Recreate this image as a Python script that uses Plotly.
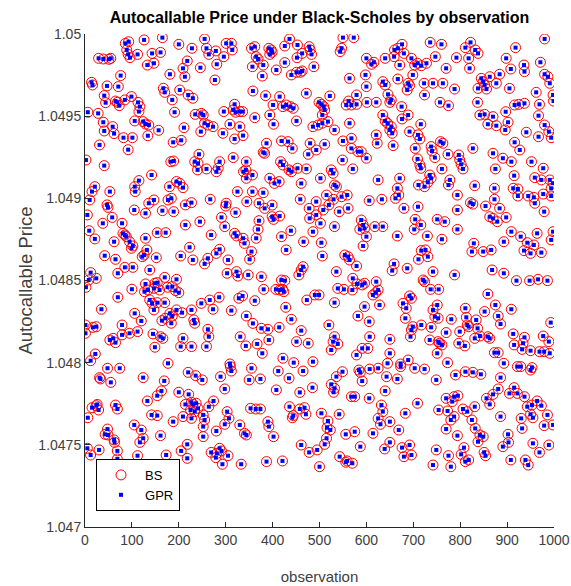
import plotly.graph_objects as go

# Observation index and autocallable price (Black-Scholes reference vs GPR prediction)
observation = [
    86, 93, 89, 92, 96, 126, 165, 200, 228, 29, 39, 51, 55, 112, 143, 161, 133, 147, 218, 246,
    209, 213, 181, 76, 14, 16, 47, 71, 167, 170, 202, 220, 230, 41, 44, 65, 69, 73, 85, 99,
    113, 117, 115, 186, 6, 28, 191, 235, 248, 39, 59, 62, 106, 124, 129, 136, 41, 134, 157, 211,
    247, 82, 101, 92, 31, 188, 205, 243, 2, 41, 183, 189, 234, 241, 240, 142, 115, 21, 106, 180,
    195, 202, 209,
    255, 259, 264, 279, 281, 296, 301, 312, 314, 277, 355, 362, 365, 369, 357, 380, 378, 392, 397, 394,
    399, 408, 426, 436, 453, 426, 452, 463, 478, 480, 483, 440, 451, 459, 463, 488, 550, 573, 544, 547,
    564, 600, 611, 616, 598, 600, 358, 385, 415, 472, 522, 499, 504, 509, 511, 506, 579, 562, 557, 568,
    579, 601, 621, 319, 316, 321, 330, 336, 296, 401, 422, 429, 438, 444, 394, 362, 451, 252, 255, 262,
    273, 309, 330, 294, 319, 337, 402, 486, 497, 506, 518, 564, 532, 550, 568, 621, 623, 419, 433, 442,
    387, 480, 493, 511, 380, 383, 568, 582, 589, 600, 476, 549, 316, 287, 284, 280, 259, 344, 343, 338,
    344, 357, 417, 422, 435, 440, 453, 472, 525, 529, 571, 394, 404, 414, 461, 532, 536, 502, 625,
    676, 667, 660, 680, 659, 640, 736, 760, 747, 696, 703, 709, 717, 728, 671, 792, 770, 822, 811, 832,
    838, 818, 820, 898, 918, 980, 908, 936, 937, 971, 980, 987, 991, 884, 877, 863, 845, 849, 852, 838,
    856, 905, 962, 998, 999, 667, 699, 689, 692, 687, 723, 742, 763, 788, 635, 640, 646, 653, 650, 724,
    757, 775, 837, 916, 925, 937, 969, 675, 689, 676, 635, 640, 645, 653, 650, 655, 716, 842, 852, 870,
    859, 877, 897, 902, 896, 967, 980, 989, 994, 941, 967, 692, 710, 714, 657, 758, 763, 738, 740, 704,
    827, 870, 916, 927, 891, 909, 952, 977, 709, 714, 716, 746, 774, 797, 799, 802, 806, 761, 875, 915,
    959, 671, 735, 738, 731, 711, 724, 778, 775, 831, 873, 913, 923, 973, 991, 998, 994, 666,
    15, 10, 53, 107, 5, 47, 49, 58, 79, 105, 129, 136, 147, 165, 177, 184, 189, 214, 227, 9,
    21, 38, 81, 85, 88, 95, 102, 99, 62, 129, 154, 172, 214, 245, 223, 42, 65, 122, 126, 132,
    152, 204, 230, 255, 12, 8, 24, 2, 70, 85, 102, 138, 100, 70, 129, 149, 154, 170, 176, 186,
    195, 193, 200, 159, 147, 134, 127, 138, 143, 154, 170, 35, 106, 120, 147, 181, 186, 171, 164, 184,
    195, 207, 227, 232, 234, 248, 1, 1, 17, 24, 79, 53, 60, 65, 79, 95, 112, 145, 149, 161,
    166, 209, 204, 227, 22, 12, 177,
    267, 301, 300, 325, 345, 357, 371, 383, 380, 399, 399, 402, 415, 321, 291, 371, 369, 365, 298, 269,
    319, 323, 337, 340, 355, 351, 287, 280, 262, 305, 303, 323, 326, 348, 376, 381, 419, 439, 429, 459,
    478, 479, 493, 493, 502, 508, 515, 520, 530, 542, 561, 547, 559, 606, 532, 486, 466, 504, 506, 589,
    593, 596, 600, 586, 618, 593, 554, 561, 564, 579, 536, 465, 461, 456, 419, 426, 421, 424, 415, 407,
    539, 552, 571, 580, 591, 596, 570, 621, 625, 614, 620, 532, 596, 582, 606, 473, 490, 499, 428, 440,
    414, 266, 273, 286, 312, 328, 336, 362, 344, 358, 376, 390, 392, 262, 264, 259, 331, 343, 367, 378,
    461, 451, 476, 520, 532, 529, 539, 525, 579, 591, 603, 607, 309, 422, 445, 486,
    633, 662, 669, 794, 822, 827, 873, 923, 945, 957, 959, 977, 994, 680, 710, 704, 716, 702, 635, 666,
    751, 767, 794, 794, 854, 863, 870, 879, 884, 898, 979, 730, 761, 829, 825, 849, 866, 893, 909, 929,
    943, 936, 950, 957, 964, 973, 994, 998, 717, 726, 731, 711, 659, 655, 687, 742, 788, 721, 724, 737,
    754, 628, 868, 893, 920, 948, 966, 986, 692, 696, 678, 685, 683, 859, 751, 742, 746, 753, 717, 699,
    696, 694, 738, 735, 770, 781, 811, 813, 815, 818, 799, 834, 837, 842, 852, 875, 881, 886, 909, 859,
    863, 831, 993, 913, 915, 937, 934, 932, 950, 977, 989, 969, 979, 753, 756, 761, 751, 797, 810, 650,
    650, 645, 673, 689, 773, 873, 881, 893, 991,
    48, 74, 124, 31, 33, 55, 169, 220, 236, 250, 163, 154, 200, 221, 227, 230, 237, 214, 225, 241,
    234, 133, 142, 154, 209, 188, 227, 252, 26, 15, 29, 24, 6, 65, 69, 105, 120, 124, 117, 161,
    48, 43, 49, 62, 63, 5, 12, 30, 69, 69, 112, 173, 205, 218, 218, 252,
    312, 310, 355, 412, 465, 289, 350, 374, 435, 408, 298, 458, 485, 536, 549, 525, 532, 530, 584, 587,
    607, 625, 591, 568, 575, 606, 274, 264, 252, 255, 303, 307, 298, 353, 364, 374, 436, 458, 468, 471,
    444, 442, 504, 542, 518, 516, 523, 625, 330, 340, 344, 390, 392, 402, 280, 556, 575, 614, 515, 511,
    587, 461, 478, 495, 269, 281, 287, 291, 279, 293, 305, 333, 387, 421, 500, 543, 556, 559, 570,
    643, 666, 673, 703, 724, 749, 790, 811, 827, 844, 886, 922, 929, 950, 953, 640, 709, 683, 632, 635,
    630, 650, 669, 770, 787, 795, 783, 754, 773, 780, 787, 770, 806, 815, 831, 825, 794, 832, 842, 849,
    838, 856, 863, 870, 881, 886, 915, 922, 937, 905, 943, 953, 964, 973, 950, 955, 986, 979, 998, 930,
    932, 902, 903, 891, 955, 989, 969, 650, 639, 676, 680, 692, 696, 749, 775, 780, 808, 802, 811, 818,
    851, 854, 908, 939, 945, 742,
]

bs_price = [
    1.049943, 1.049953, 1.049903, 1.049876, 1.049856, 1.049964, 1.049978, 1.049937, 1.049913, 1.049852,
    1.049848, 1.049846, 1.049852, 1.049876, 1.049882, 1.049888, 1.049811, 1.049822, 1.049836, 1.049795,
    1.049791, 1.049740, 1.049755, 1.049747, 1.049706, 1.049690, 1.049684, 1.049680, 1.049670, 1.049645,
    1.049659, 1.049629, 1.049609, 1.049625, 1.049582, 1.049592, 1.049584, 1.049564, 1.049599, 1.049619,
    1.049584, 1.049558, 1.049528, 1.049599, 1.049524, 1.049517, 1.049524, 1.049511, 1.049517, 1.049463,
    1.049436, 1.049394, 1.049471, 1.049467, 1.049452, 1.049446, 1.049410, 1.049381, 1.049414, 1.049430,
    1.049406, 1.049369, 1.049369, 1.049296, 1.049325, 1.049341, 1.049353, 1.049268, 1.049233, 1.049199,
    1.049223, 1.049227, 1.049223, 1.049213, 1.049173, 1.049142, 1.049108, 1.049071, 1.049071, 1.049071,
    1.049102, 1.049092, 1.049065,
    1.049970, 1.049913, 1.049876, 1.049897, 1.049816, 1.049862, 1.049943, 1.049943, 1.049903, 1.049720,
    1.049913, 1.049923, 1.049862, 1.049848, 1.049801, 1.049811, 1.049744, 1.049913, 1.049903, 1.049876,
    1.049889, 1.049781, 1.049927, 1.049970, 1.049933, 1.049826, 1.049856, 1.049882, 1.049923, 1.049903,
    1.049876, 1.049751, 1.049767, 1.049767, 1.049775, 1.049801, 1.049978, 1.049978, 1.049893, 1.049913,
    1.049730, 1.049852, 1.049816, 1.049828, 1.049751, 1.049680, 1.049653, 1.049625, 1.049619, 1.049639,
    1.049623, 1.049584, 1.049572, 1.049558, 1.049538, 1.049507, 1.049629, 1.049592, 1.049568, 1.049568,
    1.049572, 1.049584, 1.049584, 1.049572, 1.049538, 1.049524, 1.049528, 1.049528, 1.049528, 1.049568,
    1.049558, 1.049568, 1.049558, 1.049548, 1.049507, 1.049491, 1.049471, 1.049507, 1.049457, 1.049446,
    1.049436, 1.049451, 1.049436, 1.049396, 1.049361, 1.049382, 1.049451, 1.049436, 1.049446, 1.049457,
    1.049467, 1.049457, 1.049416, 1.049349, 1.049365, 1.049386, 1.049335, 1.049349, 1.049345, 1.049304,
    1.049335, 1.049335, 1.049294, 1.049329, 1.049280, 1.049274, 1.049304, 1.049284, 1.049284, 1.049244,
    1.049268, 1.049233, 1.049248, 1.049223, 1.049183, 1.049162, 1.049179, 1.049223, 1.049173, 1.049162,
    1.049122, 1.049142, 1.049223, 1.049203, 1.049173, 1.049162, 1.049183, 1.049179, 1.049173, 1.049152,
    1.049179, 1.049122, 1.049091, 1.049102, 1.049091, 1.049081, 1.049071, 1.049122, 1.049112,
    1.049937, 1.049913, 1.049903, 1.049882, 1.049862, 1.049852, 1.049949, 1.049937, 1.049862, 1.049852,
    1.049811, 1.049822, 1.049807, 1.049822, 1.049811, 1.049856, 1.049791, 1.049949, 1.049917, 1.049903,
    1.049882, 1.049852, 1.049791, 1.049852, 1.049917, 1.049970, 1.049787, 1.049811, 1.049771, 1.049828,
    1.049755, 1.049740, 1.049700, 1.049755, 1.049700, 1.049740, 1.049730, 1.049710, 1.049690, 1.049669,
    1.049665, 1.049669, 1.049645, 1.049629, 1.049592, 1.049726, 1.049751, 1.049700, 1.049686, 1.049659,
    1.049700, 1.049700, 1.049700, 1.049665, 1.049710, 1.049690, 1.049633, 1.049599, 1.049584, 1.049629,
    1.049584, 1.049564, 1.049584, 1.049568, 1.049572, 1.049578, 1.049572, 1.049558, 1.049507, 1.049483,
    1.049507, 1.049471, 1.049457, 1.049436, 1.049416, 1.049396, 1.049451, 1.049507, 1.049511, 1.049497,
    1.049451, 1.049442, 1.049527, 1.049463, 1.049416, 1.049503, 1.049446, 1.049406, 1.049369, 1.049402,
    1.049375, 1.049406, 1.049386, 1.049361, 1.049321, 1.049345, 1.049335, 1.049315, 1.049288, 1.049304,
    1.049304, 1.049274, 1.049341, 1.049294, 1.049244, 1.049223, 1.049223, 1.049183, 1.049240, 1.049203,
    1.049183, 1.049248, 1.049268, 1.049264, 1.049233, 1.049207, 1.049179, 1.049179, 1.049179, 1.049138,
    1.049126, 1.049122, 1.049142, 1.049122, 1.049098, 1.049081, 1.049071, 1.049112, 1.049081, 1.049077,
    1.049061, 1.049061, 1.049057, 1.049112, 1.049112, 1.049092, 1.049061, 1.049061,
    1.049041, 1.048990, 1.049041, 1.049041, 1.048899, 1.048960, 1.048945, 1.048884, 1.048848, 1.048929,
    1.048909, 1.048970, 1.048990, 1.048925, 1.048990, 1.049000, 1.048919, 1.048960, 1.048974, 1.048803,
    1.048753, 1.048848, 1.048787, 1.048777, 1.048767, 1.048736, 1.048710, 1.048696, 1.048736, 1.048757,
    1.048791, 1.048791, 1.048838, 1.048858, 1.048702, 1.048651, 1.048629, 1.048645, 1.048655, 1.048686,
    1.048639, 1.048649, 1.048625, 1.048601, 1.048548, 1.048503, 1.048513, 1.048459, 1.048544, 1.048580,
    1.048580, 1.048564, 1.048447, 1.048398, 1.048479, 1.048483, 1.048487, 1.048519, 1.048459, 1.048463,
    1.048507, 1.048438, 1.048426, 1.048442, 1.048452, 1.048442, 1.048432, 1.048382, 1.048361, 1.048365,
    1.048365, 1.048325, 1.048300, 1.048254, 1.048321, 1.048300, 1.048284, 1.048270, 1.048256, 1.048240,
    1.048321, 1.048304, 1.048321, 1.048260, 1.048240, 1.048361, 1.048229, 1.048179, 1.048215, 1.048219,
    1.048229, 1.048138, 1.048148, 1.048122, 1.048169, 1.048179, 1.048189, 1.048175, 1.048094, 1.048158,
    1.048148, 1.048148, 1.048098, 1.048098, 1.048053, 1.048012, 1.047996,
    1.048994, 1.048970, 1.048953, 1.049041, 1.048980, 1.049041, 1.048970, 1.048939, 1.049034, 1.048959,
    1.048888, 1.048872, 1.048892, 1.048913, 1.048884, 1.048864, 1.048811, 1.048757, 1.048828, 1.048777,
    1.048787, 1.048771, 1.048757, 1.048726, 1.048676, 1.048629, 1.048690, 1.048665, 1.048635, 1.048625,
    1.048544, 1.048554, 1.048527, 1.048534, 1.048523, 1.048446, 1.048767, 1.048803, 1.048686, 1.048994,
    1.048939, 1.048878, 1.048899, 1.048980, 1.048848, 1.048929, 1.049020, 1.048960, 1.048994, 1.048919,
    1.048939, 1.049010, 1.049020, 1.048986, 1.048828, 1.048797, 1.048736, 1.048730, 1.048649, 1.048868,
    1.048838, 1.048817, 1.048767, 1.048811, 1.048828, 1.048710, 1.048655, 1.048645, 1.048625, 1.048588,
    1.048554, 1.048584, 1.048564, 1.048534, 1.048503, 1.048499, 1.048446, 1.048432, 1.048442, 1.048446,
    1.048452, 1.048446, 1.048513, 1.048479, 1.048473, 1.048483, 1.048442, 1.048493, 1.048442, 1.048412,
    1.048426, 1.048365, 1.048341, 1.048284, 1.048250, 1.048381, 1.048412, 1.048412, 1.048337, 1.048264,
    1.048215, 1.048381, 1.048325, 1.048398, 1.048317, 1.048392, 1.048406, 1.048377, 1.048284, 1.048239,
    1.048209, 1.048203, 1.048138, 1.048203, 1.048158, 1.048098, 1.048158, 1.048102, 1.048114, 1.048057,
    1.048195, 1.048128, 1.048118, 1.048229, 1.048158, 1.048128, 1.048114, 1.048077, 1.048047, 1.048087,
    1.048087, 1.048158, 1.047992, 1.048027, 1.048000, 1.048006,
    1.048994, 1.049000, 1.049020, 1.049020, 1.048974, 1.048965, 1.048994, 1.049014, 1.049014, 1.049006,
    1.048970, 1.049026, 1.049014, 1.048939, 1.048949, 1.048872, 1.048838, 1.048811, 1.048828, 1.048771,
    1.048872, 1.048858, 1.048929, 1.048811, 1.048953, 1.048888, 1.048878, 1.048858, 1.048939, 1.048884,
    1.048919, 1.048771, 1.048751, 1.048726, 1.048676, 1.048676, 1.048686, 1.048736, 1.048797, 1.048767,
    1.048730, 1.048682, 1.048665, 1.048716, 1.048787, 1.048670, 1.048747, 1.048797, 1.048682, 1.048686,
    1.048645, 1.048629, 1.048601, 1.048560, 1.048574, 1.048554, 1.048534, 1.048503, 1.048493, 1.048446,
    1.048446, 1.048351, 1.048564, 1.048544, 1.048499, 1.048499, 1.048507, 1.048499, 1.048406, 1.048392,
    1.048361, 1.048331, 1.048270, 1.048418, 1.048351, 1.048321, 1.048280, 1.048270, 1.048229, 1.048219,
    1.048199, 1.048158, 1.048215, 1.048138, 1.048183, 1.048264, 1.048331, 1.048276, 1.048229, 1.048219,
    1.048189, 1.048260, 1.048209, 1.048162, 1.048311, 1.048351, 1.048284, 1.048235, 1.048325, 1.048158,
    1.048148, 1.048148, 1.048244, 1.048175, 1.048108, 1.048154, 1.048118, 1.048081, 1.048073, 1.048162,
    1.048128, 1.048067, 1.048067, 1.048128, 1.048118, 1.048108, 1.048057, 1.048118, 1.048102, 1.048142,
    1.048057, 1.047996, 1.047992, 1.048016, 1.048000, 1.048061, 1.048061, 1.047996, 1.048057,
    1.047966, 1.047966, 1.047909, 1.047909, 1.047901, 1.047880, 1.047889, 1.047941, 1.047921, 1.047895,
    1.047828, 1.047799, 1.047820, 1.047807, 1.047759, 1.047746, 1.047753, 1.047746, 1.047712, 1.047722,
    1.047702, 1.047767, 1.047682, 1.047678, 1.047672, 1.047641, 1.047661, 1.047611, 1.047746, 1.047726,
    1.047712, 1.047738, 1.047665, 1.047742, 1.047718, 1.047621, 1.047590, 1.047540, 1.047515, 1.047556,
    1.047596, 1.047564, 1.047560, 1.047530, 1.047515, 1.047479, 1.047438, 1.047469, 1.047463, 1.047414,
    1.047434, 1.047438, 1.047463, 1.047503, 1.047418, 1.047550,
    1.047949, 1.047976, 1.047966, 1.047949, 1.047949, 1.047915, 1.047895, 1.047901, 1.047905, 1.047834,
    1.047840, 1.047819, 1.047848, 1.047915, 1.047945, 1.047868, 1.047844, 1.047820, 1.047955, 1.047941,
    1.047961, 1.047966, 1.047888, 1.047793, 1.047793, 1.047783, 1.047767, 1.047732, 1.047682, 1.047651,
    1.047702, 1.047661, 1.047625, 1.047722, 1.047718, 1.047718, 1.047732, 1.047718, 1.047726, 1.047686,
    1.047678, 1.047665, 1.047692, 1.047686, 1.047645, 1.047604, 1.047590, 1.047661, 1.047621, 1.047570,
    1.047560, 1.047641, 1.047611, 1.047550, 1.047584, 1.047564, 1.047580, 1.047570, 1.047540, 1.047503,
    1.047489, 1.047499, 1.047454, 1.047469, 1.047454, 1.047448, 1.047479, 1.047463, 1.047422, 1.047382,
    1.047434, 1.047382, 1.047398, 1.047402, 1.047367, 1.047428, 1.047394, 1.047402, 1.047388,
    1.047915, 1.047901, 1.047976, 1.047966, 1.047961, 1.047895, 1.047925, 1.047945, 1.047941, 1.047929,
    1.047909, 1.047976, 1.047976, 1.047955, 1.047970, 1.047828, 1.047753, 1.047692, 1.047742, 1.047702,
    1.047625, 1.047641, 1.047590, 1.047783, 1.047793, 1.047799, 1.047763, 1.047712, 1.047706, 1.047651,
    1.047672, 1.047596, 1.047718, 1.047702, 1.047732, 1.047651, 1.047556, 1.047600, 1.047560, 1.047550,
    1.047519, 1.047783, 1.047746, 1.047807, 1.047840, 1.047672, 1.047848, 1.047813, 1.047793, 1.047813,
    1.047732, 1.047742, 1.047767, 1.047738, 1.047686, 1.047665, 1.047682, 1.047617, 1.047621, 1.047661,
    1.047600, 1.047564, 1.047515, 1.047489, 1.047509, 1.047499, 1.047454, 1.047515, 1.047475, 1.047483,
    1.047428, 1.047499, 1.047438, 1.047469, 1.047434, 1.047367, 1.047483, 1.047442, 1.047398, 1.047408,
    1.047454, 1.047434, 1.047408, 1.047408, 1.047377, 1.047377,
]

# GPR predictions coincide with the Black-Scholes prices at this scale
gpr_price = list(bs_price)

assert len(observation) == len(bs_price) == len(gpr_price)

x_ticks = [0, 100, 200, 300, 400, 500, 600, 700, 800, 900, 1000]
y_ticks = [1.047, 1.0475, 1.048, 1.0485, 1.049, 1.0495, 1.05]
y_tick_text = ["1.047", "1.0475", "1.048", "1.0485", "1.049", "1.0495", "1.05"]

FONT = "Liberation Sans, Arial, sans-serif"
AXIS_COLOR = "#262626"
TICK_FONT_COLOR = "#404040"

fig = go.Figure()
fig.add_trace(go.Scatter(
    x=observation, y=bs_price, mode="markers", name="BS",
    marker=dict(symbol="circle-open", size=10, color="#ff0000", line=dict(width=1)),
))
fig.add_trace(go.Scatter(
    x=observation, y=gpr_price, mode="markers", name="GPR",
    marker=dict(symbol="square", size=4, color="#0000ff", line=dict(width=0)),
))

fig.update_layout(
    width=571, height=586,
    margin=dict(l=85, r=17, t=34, b=59, autoexpand=False),
    paper_bgcolor="white", plot_bgcolor="white",
    font=dict(family=FONT, color=TICK_FONT_COLOR),
    title=dict(
        text="<b>Autocallable Price under Black-Scholes by observation</b>",
        font=dict(family=FONT, size=16, color="#000000"),
        x=0.5, xref="paper", xanchor="center",
        y=1 - 17 / 586, yref="container", yanchor="middle",
    ),
    showlegend=True,
    legend=dict(
        x=0.0235, y=0.138, xanchor="left", yanchor="top",
        bgcolor="white", bordercolor="#000000", borderwidth=1,
        font=dict(family=FONT, size=13, color="#000000"),
        itemwidth=38, tracegroupgap=0,
    ),
    xaxis=dict(
        range=[0, 1000], tickvals=x_ticks, ticks="inside", ticklen=5, tickcolor=AXIS_COLOR,
        showline=True, linecolor=AXIS_COLOR, linewidth=1, mirror=False,
        showgrid=False, zeroline=False,
        tickfont=dict(family=FONT, size=14, color=TICK_FONT_COLOR),
        title=dict(text="observation", font=dict(family=FONT, size=15, color=TICK_FONT_COLOR), standoff=24),
    ),
    yaxis=dict(
        range=[1.047, 1.05], tickvals=y_ticks, ticktext=y_tick_text,
        ticks="inside", ticklen=5, tickcolor=AXIS_COLOR,
        showline=True, linecolor=AXIS_COLOR, linewidth=1, mirror=False,
        showgrid=False, zeroline=False,
        tickfont=dict(family=FONT, size=14, color=TICK_FONT_COLOR),
        title=dict(text="Autocallable Price", font=dict(family=FONT, size=18.5, color=TICK_FONT_COLOR), standoff=0),
    ),
)

fig.write_html("out.html")
